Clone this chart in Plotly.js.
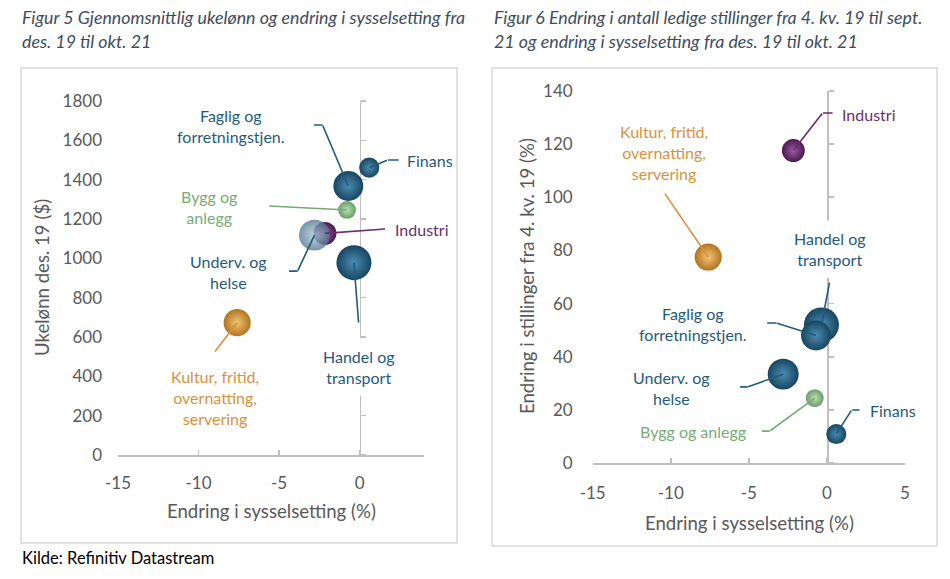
<!DOCTYPE html>
<html>
<head>
<meta charset="utf-8">
<script src="https://cdn.plot.ly/plotly-3.0.1.min.js"></script>
<style>
  html, body { margin: 0; padding: 0; background: #ffffff; }
  #chart { width: 950px; height: 579px; }
</style>
</head>
<body>
<div id="chart"></div>
<script>
// ---------------- DATA ----------------
const sectors = ['Finans', 'Handel og transport', 'Faglig og forretningstjen.', 'Bygg og anlegg', 'Industri', 'Underv. og helse', 'Kultur, fritid, overnatting, servering'];
const employmentChange = [0.6, -0.35, -0.7, -0.78, -2.15, -2.8, -7.6];     // Endring i sysselsetting (%)
const weeklyWage = [1461, 978, 1368, 1246, 1127, 1118, 673];               // Ukelønn des. 19 ($)
const vacancyChange = [11, 52, 48, 24.5, 117.5, 33.5, 77.5];               // Endring i stillinger (%)
const bubbleSize = [33, 100, 73, 26, 43, 78, 60];                          // relative bubble size

const xTicksLeft = [-15, -10, -5, 0];
const yTicksLeft = [0, 200, 400, 600, 800, 1000, 1200, 1400, 1600, 1800];
const xTicksRight = [-15, -10, -5, 0, 5];
const yTicksRight = [0, 20, 40, 60, 80, 100, 120, 140];

// ---------------- STYLE ----------------
const W = 950, H = 579;
const FONT = 'Lato, "Open Sans", sans-serif';
const AXIS_GREY = '#bfbfbf';
const TICK_TXT = '#595959';
const BLUE = '#1f5b7c', GREEN = '#77ac77', PURPLE = '#6b2d6b', ORANGE = '#d9913e';
const px = v => v / W;
const py = v => 1 - v / H;
const txt = arr => arr.map(v => String(v));   // plain hyphen minus like the original

// colours per sector (same order as sectors): edge colour and highlight (centre) colour
const edgeLeft   = ['#184560', '#184560', '#184560', '#6a9c69', '#4a1a4e', '#4f7590', '#b0741f'];
const hiLeft     = ['#4a8db3', '#4a8db3', '#4a8db3', '#bfe0b6', '#9b5aa2', '#b0c8d8', '#f5c477'];
const opacLeft   = [1, 1, 1, 1, 1, 0.78, 1];
const edgeRight  = ['#184560', '#184560', '#184560', '#6a9c69', '#4a1a4e', '#184560', '#b0741f'];
const hiRight    = ['#4a8db3', '#4a8db3', '#4a8db3', '#bfe0b6', '#9b5aa2', '#4a8db3', '#f5c477'];

const maxDiam = 35;
const sizeref = 2 * Math.max(...bubbleSize) / (maxDiam * maxDiam);

const leftX = [-15, 4], leftY = [0, 1800];
const rightX = [-15, 5], rightY = [0, 140];
const leftDom = [px(118), px(424)], leftYDom = [py(455), py(101)];
const rightDom = [px(592.7), px(905)], rightYDom = [py(463.3), py(90.7)];
const zeroPos = (dom, rng) => dom[0] + (0 - rng[0]) / (rng[1] - rng[0]) * (dom[1] - dom[0]);

const traces = [
  {
    type: 'scatter', mode: 'markers', x: employmentChange, y: weeklyWage, text: sectors,
    xaxis: 'x', yaxis: 'y', hoverinfo: 'text',
    marker: { size: bubbleSize, sizemode: 'area', sizeref: sizeref, color: edgeLeft,
              opacity: opacLeft, line: { width: 0 },
              gradient: { type: 'radial', color: hiLeft } }
  },
  {
    type: 'scatter', mode: 'markers', x: employmentChange, y: vacancyChange, text: sectors,
    xaxis: 'x2', yaxis: 'y2', hoverinfo: 'text',
    marker: { size: bubbleSize, sizemode: 'area', sizeref: sizeref, color: edgeRight,
              opacity: 1, line: { width: 0 },
              gradient: { type: 'radial', color: hiRight } }
  },
  { type: 'scatter', mode: 'markers', x: [], y: [], xaxis: 'x', yaxis: 'y3', showlegend: false, hoverinfo: 'skip' },
  { type: 'scatter', mode: 'markers', x: [], y: [], xaxis: 'x2', yaxis: 'y4', showlegend: false, hoverinfo: 'skip' }
];

const tickFont = { family: FONT, size: 17, color: TICK_TXT };
const xBase = {
  showline: true, linecolor: AXIS_GREY, linewidth: 1.6, ticks: 'inside', ticklen: 5,
  tickcolor: AXIS_GREY, tickwidth: 1.6, showgrid: false, zeroline: false,
  tickfont: tickFont, fixedrange: true, layer: 'below traces'
};
const yLabelAxis = {
  showline: false, ticks: '', showgrid: false, zeroline: false, tickfont: tickFont,
  fixedrange: true
};
const yLineAxis = {
  anchor: 'free', side: 'right', showline: true, linecolor: AXIS_GREY, linewidth: 1.6,
  ticks: 'outside', ticklen: 5, tickcolor: AXIS_GREY, tickwidth: 1.6, showticklabels: false,
  showgrid: false, zeroline: false, layer: 'below traces', fixedrange: true
};

// ---------------- LABELS & LEADERS ----------------
const annotations = [];
function label(xr, yr, x, y, text, color, extra) {
  annotations.push(Object.assign({ xref: xr, yref: yr, x: x, y: y, text: text, showarrow: false,
    font: { family: FONT, size: 16, color: color }, align: 'center' }, extra || {}));
}
function leader(xr, yr, tx, ty, hx, hy, color) {
  annotations.push({ xref: xr, yref: yr, axref: xr, ayref: yr, x: hx, y: hy, ax: tx, ay: ty,
    text: '', showarrow: true, arrowhead: 0, arrowwidth: 1.6, arrowcolor: color, standoff: 0, borderpad: 0 });
}
const idx = name => sectors.indexOf(name);

// Left chart leaders
const L = (i) => [employmentChange[i], weeklyWage[i]];
let i;
i = idx('Faglig og forretningstjen.');
leader('x', 'y', -2.86, 1678, -2.30, 1678, BLUE);
leader('x', 'y', -2.30, 1678, ...L(i), BLUE);
i = idx('Finans');
leader('x', 'y', 1.74, 1500, 2.42, 1500, BLUE);
leader('x', 'y', 1.74, 1500, ...L(i), BLUE);
i = idx('Bygg og anlegg');
leader('x', 'y', -5.65, 1266, ...L(i), GREEN);
i = idx('Industri');
leader('x', 'y', 1.61, 1149, ...L(i), PURPLE);
i = idx('Underv. og helse');
leader('x', 'y', -4.41, 935, -3.85, 935, BLUE);
leader('x', 'y', -3.85, 935, ...L(i), BLUE);
i = idx('Handel og transport');
leader('x', 'y', -0.06, 671, ...L(i), BLUE);
i = idx('Kultur, fritid, overnatting, servering');
leader('x', 'y', -9.0, 524, ...L(i), ORANGE);

label('x', 'y', -8.01, 1671, 'Faglig og<br>forretningstjen.', BLUE);
label('x', 'y', 2.8, 1500, 'Finans', BLUE, { xanchor: 'left' });
label('x', 'y', -9.38, 1261, 'Bygg og<br>anlegg', GREEN);
label('x', 'y', 2.05, 1149, 'Industri', PURPLE, { xanchor: 'left' });
label('x', 'y', -8.14, 930, 'Underv. og<br>helse', BLUE);
label('x', 'y', -0.06, 447, 'Handel og<br>transport', BLUE, { bgcolor: '#ffffff', borderpad: 8 });
label('x', 'y', -9.0, 290, 'Kultur, fritid,<br>overnatting,<br>servering', ORANGE);

// Right chart leaders
const R = (i) => [employmentChange[i], vacancyChange[i]];
i = idx('Industri');
leader('x2', 'y2', -0.28, 131.6, 0.36, 131.6, PURPLE);
leader('x2', 'y2', -0.28, 131.6, ...R(i), PURPLE);
i = idx('Kultur, fritid, overnatting, servering');
leader('x2', 'y2', -10.4, 101.5, ...R(i), ORANGE);
i = idx('Handel og transport');
leader('x2', 'y2', 0.17, 68.1, ...R(i), BLUE);
i = idx('Faglig og forretningstjen.');
leader('x2', 'y2', -3.86, 52.7, -3.22, 52.7, BLUE);
leader('x2', 'y2', -3.22, 52.7, ...R(i), BLUE);
i = idx('Underv. og helse');
leader('x2', 'y2', -5.59, 28.7, -5.08, 28.7, BLUE);
leader('x2', 'y2', -5.08, 28.7, ...R(i), BLUE);
i = idx('Bygg og anlegg');
leader('x2', 'y2', -4.2, 12.1, -3.67, 12.1, GREEN);
leader('x2', 'y2', -3.67, 12.1, ...R(i), GREEN);
i = idx('Finans');
leader('x2', 'y2', 1.58, 20, 2.09, 20, BLUE);
leader('x2', 'y2', 1.58, 20, ...R(i), BLUE);

label('x2', 'y2', 0.81, 131.2, 'Industri', PURPLE, { xanchor: 'left' });
label('x2', 'y2', -10.46, 116.9, 'Kultur, fritid,<br>overnatting,<br>servering', ORANGE);
label('x2', 'y2', 0.17, 80.5, 'Handel og<br>transport', BLUE, { bgcolor: '#ffffff', borderpad: 8 });
label('x2', 'y2', -8.6, 52.3, 'Faglig og<br>forretningstjen.', BLUE);
label('x2', 'y2', -9.95, 28.3, 'Underv. og<br>helse', BLUE);
label('x2', 'y2', -8.55, 11.8, 'Bygg og anlegg', GREEN);
label('x2', 'y2', 2.6, 20, 'Finans', BLUE, { xanchor: 'left' });

// Titles, axis titles, source
const TITLE_COL = '#3e4c5e';
const titleFont = { family: FONT, size: 17.8, color: TITLE_COL };
function paperText(x, y, text, font, extra) {
  annotations.push(Object.assign({ xref: 'paper', yref: 'paper', x: x, y: y, text: text,
    showarrow: false, font: font, xanchor: 'left', yanchor: 'middle', align: 'left' }, extra || {}));
}
paperText(px(20), py(17), '<i>Figur 5 Gjennomsnittlig ukelønn og endring i sysselsetting fra</i>', titleFont);
paperText(px(20), py(41), '<i>des. 19 til okt. 21</i>', titleFont);
paperText(px(492), py(17), '<i>Figur 6 Endring i antall ledige stillinger fra 4. kv. 19 til sept.</i>', titleFont);
paperText(px(492), py(41), '<i>21 og endring i sysselsetting fra des. 19 til okt. 21</i>', titleFont);
paperText(px(20), py(558), 'Kilde: Refinitiv Datastream', { family: FONT, size: 16.5, color: '#000000' });

const axTitleFont = { family: FONT, size: 18.6, color: TICK_TXT };
paperText(px(271), py(511), 'Endring i sysselsetting (%)', axTitleFont, { xanchor: 'center' });
paperText(px(42), py(278), 'Ukelønn des. 19 ($)', axTitleFont, { xanchor: 'center', textangle: -90 });
paperText(px(749), py(523), 'Endring i sysselsetting (%)', axTitleFont, { xanchor: 'center' });
paperText(px(527), py(276), 'Endring i stillinger fra 4. kv. 19 (%)', axTitleFont, { xanchor: 'center', textangle: -90 });

const shapes = [
  { type: 'rect', xref: 'paper', yref: 'paper', x0: px(21), x1: px(457), y0: py(543), y1: py(68),
    line: { color: '#d9d9d9', width: 1.5 }, layer: 'below' },
  { type: 'rect', xref: 'paper', yref: 'paper', x0: px(492), x1: px(937), y0: py(546), y1: py(68),
    line: { color: '#d9d9d9', width: 1.5 }, layer: 'below' }
];

const layout = {
  width: W, height: H, margin: { l: 0, r: 0, t: 0, b: 0 },
  paper_bgcolor: '#ffffff', plot_bgcolor: 'rgba(0,0,0,0)', showlegend: false,
  xaxis: Object.assign({}, xBase, { domain: leftDom, range: leftX, tickvals: xTicksLeft, ticktext: txt(xTicksLeft), anchor: 'y', ticklabelstandoff: 12 }),
  yaxis: Object.assign({}, yLabelAxis, { domain: leftYDom, range: leftY, tickvals: yTicksLeft, ticktext: txt(yTicksLeft), anchor: 'x', ticklabelstandoff: 15 }),
  yaxis3: Object.assign({}, yLineAxis, { overlaying: 'y', range: leftY, tickvals: yTicksLeft,
    position: zeroPos(leftDom, leftX) }),
  xaxis2: Object.assign({}, xBase, { domain: rightDom, range: rightX, tickvals: xTicksRight, ticktext: txt(xTicksRight), anchor: 'y2', ticklabelstandoff: 14 }),
  yaxis2: Object.assign({}, yLabelAxis, { domain: rightYDom, range: rightY, tickvals: yTicksRight, ticktext: txt(yTicksRight), anchor: 'x2', ticklabelstandoff: 19 }),
  yaxis4: Object.assign({}, yLineAxis, { overlaying: 'y2', range: rightY, tickvals: yTicksRight,
    position: zeroPos(rightDom, rightX) }),
  annotations: annotations,
  shapes: shapes
};

Plotly.newPlot('chart', traces, layout, { staticPlot: true, displayModeBar: false });
</script>
</body>
</html>
